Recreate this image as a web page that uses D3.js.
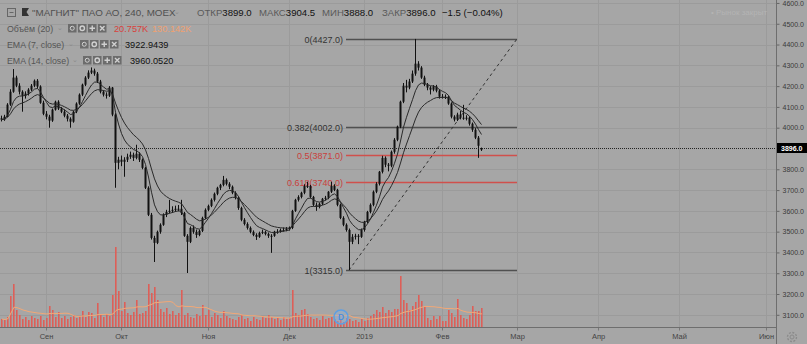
<!DOCTYPE html>
<html>
<head>
<meta charset="utf-8">
<script src="https://cdnjs.cloudflare.com/ajax/libs/d3/7.8.5/d3.min.js"></script>
<style>
body { margin: 0; background: #a6a6a6; overflow: hidden; }
svg text { font-family: "Liberation Sans", Arial, sans-serif; }
</style>
</head>
<body>
<div class="viz"></div>
<script>
// 4h bars, MAGNIT: [open, high, low, close]
var ohlc = [
[4045,4058,4030,4039],[4039,4062,4033,4053],[4053,4118,4050,4111],[4111,4185,4105,4173],[4173,4282,4168,4241],
[4241,4250,4195,4202],[4202,4214,4160,4173],[4173,4180,4077,4154],[4154,4175,4140,4164],[4164,4190,4155,4183],
[4183,4210,4176,4202],[4202,4232,4195,4226],[4226,4234,4188,4198],[4198,4204,4115,4120],[4120,4130,4060,4067],
[4067,4080,4040,4053],[4053,4062,4000,4034],[4034,4092,4028,4087],[4087,4130,4082,4125],[4125,4132,4085,4092],
[4092,4100,4070,4077],[4077,4088,4050,4058],[4058,4066,4030,4043],[4043,4050,4000,4029],[4029,4082,4024,4077],
[4077,4122,4070,4116],[4116,4165,4110,4159],[4159,4212,4152,4207],[4207,4248,4200,4241],[4241,4276,4234,4265],
[4265,4290,4258,4275],[4275,4284,4250,4260],[4260,4268,4215,4222],[4222,4230,4165,4173],[4173,4180,4150,4159],
[4159,4170,4140,4154],[4154,4200,4148,4193],[4193,4196,4055,4063],[4063,4070,3711,3831],[3831,3860,3800,3846],
[3846,3866,3815,3836],[3836,3858,3764,3846],[3846,3875,3835,3860],[3860,3885,3850,3870],[3870,3880,3840,3855],
[3855,3918,3848,3875],[3875,3882,3835,3846],[3846,3852,3800,3807],[3807,3812,3705,3711],[3711,3718,3575,3581],
[3581,3590,3462,3470],[3470,3480,3354,3446],[3446,3505,3440,3499],[3499,3540,3490,3533],[3533,3588,3528,3581],
[3581,3605,3570,3595],[3595,3653,3588,3600],[3600,3622,3590,3605],[3605,3625,3595,3610],[3610,3628,3598,3610],
[3610,3653,3580,3590],[3590,3595,3475,3480],[3480,3488,3301,3451],[3451,3525,3445,3518],[3518,3530,3490,3499],
[3499,3510,3470,3484],[3484,3510,3478,3504],[3504,3572,3498,3566],[3566,3612,3560,3605],[3605,3630,3598,3624],
[3624,3660,3618,3653],[3653,3688,3645,3682],[3682,3716,3675,3711],[3711,3730,3700,3725],[3725,3768,3718,3749],
[3749,3756,3722,3730],[3730,3738,3705,3716],[3716,3722,3680,3687],[3687,3694,3655,3663],[3663,3670,3605,3614],
[3614,3620,3550,3557],[3557,3565,3530,3537],[3537,3545,3510,3518],[3518,3525,3492,3499],[3499,3506,3478,3484],
[3484,3492,3460,3475],[3475,3500,3470,3494],[3494,3510,3488,3499],[3499,3505,3482,3489],[3489,3496,3470,3480],
[3480,3488,3398,3480],[3480,3504,3475,3499],[3499,3512,3490,3499],[3499,3515,3495,3508],[3508,3520,3500,3508],
[3508,3522,3502,3513],[3513,3525,3505,3518],[3518,3605,3512,3600],[3600,3658,3595,3653],[3653,3675,3645,3667],
[3667,3692,3660,3687],[3687,3728,3680,3720],[3720,3740,3710,3720],[3720,3725,3660,3667],[3667,3672,3622,3629],
[3629,3640,3600,3619],[3619,3640,3612,3634],[3634,3662,3628,3658],[3658,3672,3650,3663],[3663,3695,3656,3692],
[3692,3740,3686,3720],[3720,3728,3695,3701],[3701,3706,3622,3629],[3629,3635,3560,3566],[3566,3574,3526,3533],
[3533,3540,3500,3508],[3508,3515,3315,3451],[3451,3488,3440,3475],[3475,3490,3462,3480],[3480,3488,3440,3475],
[3475,3515,3470,3508],[3508,3552,3500,3547],[3547,3600,3540,3595],[3595,3636,3588,3629],[3629,3698,3622,3692],
[3692,3738,3685,3730],[3730,3792,3722,3788],[3788,3865,3780,3855],[3855,3862,3810,3822],[3822,3830,3790,3817],
[3817,3890,3810,3884],[3884,3950,3875,3942],[3942,4010,3935,4005],[4005,4130,3998,4125],[4125,4215,4118,4202],
[4202,4230,4170,4193],[4193,4235,4185,4222],[4222,4275,4215,4260],[4260,4427,4250,4308],[4308,4320,4275,4289],
[4289,4296,4235,4241],[4241,4250,4200,4207],[4207,4215,4180,4193],[4193,4200,4160,4183],[4183,4205,4175,4198],
[4198,4206,4170,4178],[4178,4185,4140,4149],[4149,4162,4140,4149],[4149,4160,4138,4149],[4149,4155,4110,4116],
[4116,4122,4045,4053],[4053,4060,4030,4039],[4039,4072,4032,4063],[4063,4080,4040,4048],[4048,4110,4038,4043],
[4043,4060,4035,4048],[4048,4055,4010,4019],[4019,4025,3980,3990],[3990,3998,3945,3952],[3952,3960,3855,3913],
[3899,3904.5,3888,3896]
];

// volume per bar, thousands
var volumes = [
88,77,110,341,473,187,132,88,110,77,
121,99,88,121,77,99,231,187,110,165,
99,121,88,110,132,99,121,176,110,165,
154,99,264,132,110,143,121,352,880,396,
176,275,154,132,165,297,143,154,176,473,
374,440,297,198,165,209,143,176,132,154,
407,132,154,110,99,143,121,242,132,187,
110,154,132,99,176,121,99,88,77,110,
132,88,99,66,110,88,77,121,99,132,
110,88,99,77,110,88,99,407,154,132,
187,198,143,110,88,99,77,121,88,99,
110,88,66,77,55,99,88,66,77,55,
88,66,99,121,143,187,165,220,154,187,
165,198,198,561,297,264,187,231,275,352,
286,231,99,77,121,88,121,66,66,187,
154,110,308,132,99,88,132,231,176,176,
209
];

var monthLabels = ["Сен", "Окт", "Ноя", "Дек", "2019", "Фев", "Мар", "Апр", "Май", "Июн"];
var monthIdx = [15, 40, 69, 96, 121, 147, 172, 199, 226, 255];
var priceTicks = [4600, 4500, 4400, 4300, 4200, 4100, 4000, 3800, 3700, 3600, 3500, 3400, 3300, 3200, 3100];
var gridTicks = [4600, 4500, 4400, 4300, 4200, 4100, 4000, 3800, 3700, 3600, 3500, 3400, 3300, 3200, 3100];
var lastPrice = 3896.0;

// fibonacci retracement: anchors (bar index, price)
var fibLow = [116, 3315.0];
var fibHigh = [172, 4427.0];
var fibRatios = [0, 0.382, 0.5, 0.618, 1];

var w = 807, h = 344;
var plotRight = 776, plotBottom = 327;

var svg = d3.select(".viz").append("svg")
    .attr("width", w)
    .attr("height", h);

svg.append("rect").attr("width", w).attr("height", h).attr("fill", "#a6a6a6");

var xScale = d3.scaleLinear().domain([0, ohlc.length - 1]).range([1, 481]);
var yScale = d3.scaleLinear().domain([3100, 4000]).range([314.8, 127.7]);
var vScale = d3.scaleLinear().domain([0, 880]).range([plotBottom, 247]);

// grid
svg.append("g").selectAll("line")
    .data(gridTicks)
    .enter().append("line")
    .attr("x1", 0).attr("x2", plotRight)
    .attr("y1", function(d) { return Math.round(yScale(d)) + 0.5; })
    .attr("y2", function(d) { return Math.round(yScale(d)) + 0.5; })
    .attr("stroke", "#9b9b9b");

svg.append("g").selectAll("line")
    .data(monthIdx)
    .enter().append("line")
    .attr("y1", 0).attr("y2", plotBottom)
    .attr("x1", function(d) { return Math.round(xScale(d)) + 0.5; })
    .attr("x2", function(d) { return Math.round(xScale(d)) + 0.5; })
    .attr("stroke", "#9b9b9b");

// volume
svg.append("g").selectAll("rect")
    .data(volumes)
    .enter().append("rect")
    .attr("x", function(d, i) { return xScale(i); })
    .attr("y", function(d) { return vScale(d); })
    .attr("width", 1.6)
    .attr("height", function(d) { return plotBottom - vScale(d); })
    .attr("fill", "#dd5f58");

var volMA = volumes.map(function(d, i) {
    var s = volumes.slice(Math.max(0, i - 19), i + 1);
    return d3.mean(s);
});
svg.append("path")
    .datum(volMA)
    .attr("fill", "none")
    .attr("stroke", "#f2a877")
    .attr("stroke-width", 1)
    .attr("d", d3.line().x(function(d, i) { return xScale(i) + 1; }).y(function(d) { return vScale(d); }));

// fib levels
var fibRange = fibHigh[1] - fibLow[1];
var fibColor = { "0": "#505050", "0.382": "#505050", "0.5": "#d0504c", "0.618": "#d0504c", "1": "#505050" };
var fibG = svg.append("g");
fibRatios.forEach(function(r) {
    var p = Math.round((fibHigh[1] - r * fibRange) * 2) / 2;
    var yy = Math.round(yScale(p)) + 0.5;
    fibG.append("line")
        .attr("x1", xScale(fibLow[0] - 1)).attr("x2", xScale(fibHigh[0]))
        .attr("y1", yy).attr("y2", yy)
        .attr("stroke", fibColor[String(r)])
        .attr("stroke-width", 1.5);
    fibG.append("text")
        .attr("x", xScale(fibLow[0] - 1) - 3)
        .attr("y", yy + 3)
        .attr("text-anchor", "end")
        .attr("font-size", "9px")
        .attr("fill", fibColor[String(r)] == "#505050" ? "#333" : "#c9403c")
        .text(r + "(" + p.toFixed(1) + ")");
});
fibG.append("line")
    .attr("x1", xScale(fibLow[0])).attr("y1", yScale(fibLow[1]))
    .attr("x2", xScale(fibHigh[0])).attr("y2", yScale(fibHigh[1]))
    .attr("stroke", "#333")
    .attr("stroke-dasharray", "3,3");

// candles
var cg = svg.append("g");
cg.selectAll("line")
    .data(ohlc)
    .enter().append("line")
    .attr("x1", function(d, i) { return xScale(i) + 0.5; })
    .attr("x2", function(d, i) { return xScale(i) + 0.5; })
    .attr("y1", function(d) { return yScale(d[1]); })
    .attr("y2", function(d) { return yScale(d[2]); })
    .attr("stroke", "#111");
cg.selectAll("rect")
    .data(ohlc)
    .enter().append("rect")
    .attr("x", function(d, i) { return xScale(i) - 0.5; })
    .attr("y", function(d) { return yScale(Math.max(d[0], d[3])); })
    .attr("width", 2)
    .attr("height", function(d) { return Math.max(1, Math.abs(yScale(d[0]) - yScale(d[3]))); })
    .attr("fill", "#111");

// EMAs
function ema(n) {
    var k = 2 / (n + 1), out = [], prev;
    ohlc.forEach(function(d, i) {
        prev = i == 0 ? d[3] : d[3] * k + prev * (1 - k);
        out.push(prev);
    });
    return out;
}
[7, 14].forEach(function(n) {
    svg.append("path")
        .datum(ema(n))
        .attr("fill", "none")
        .attr("stroke", "#2a2a2a")
        .attr("stroke-width", 1)
        .attr("d", d3.line().x(function(d, i) { return xScale(i) + 0.5; }).y(function(d) { return yScale(d); }));
});

// last price dotted line
svg.append("line")
    .attr("x1", 0).attr("x2", plotRight)
    .attr("y1", Math.round(yScale(lastPrice)) - 0.5).attr("y2", Math.round(yScale(lastPrice)) - 0.5)
    .attr("stroke", "#222")
    .attr("stroke-dasharray", "1,1");

// price axis
var yaxis = d3.axisRight(yScale)
    .tickValues(priceTicks)
    .tickSize(3)
    .tickPadding(3)
    .tickFormat(d3.format(".1f"));
var ya = svg.append("g")
    .attr("class", "y axis")
    .attr("transform", "translate(" + (plotRight + 0.5) + ",0)")
    .call(yaxis);
ya.select(".domain").remove();
ya.selectAll("line").attr("stroke", "#666");
ya.selectAll("text").attr("fill", "#3a3a3a").attr("font-size", "7px").attr("font-family", "Liberation Sans, Arial, sans-serif");
svg.append("line").attr("x1", plotRight + 0.5).attr("x2", plotRight + 0.5).attr("y1", 0).attr("y2", h).attr("stroke", "#6e6e6e");

var ly = Math.round(yScale(lastPrice)) - 1;
svg.append("rect").attr("x", plotRight + 1).attr("y", ly - 5).attr("width", w - plotRight).attr("height", 10).attr("fill", "#000");
svg.append("text").attr("x", plotRight + 5).attr("y", ly + 2.5)
    .attr("font-size", "7px").attr("font-weight", "bold").attr("fill", "#fff")
    .text(lastPrice.toFixed(1));

// time axis
var xaxis = d3.axisBottom(xScale)
    .tickValues(monthIdx)
    .tickSize(3)
    .tickPadding(3)
    .tickFormat(function(d, i) { return monthLabels[i]; });
var xa = svg.append("g")
    .attr("class", "x axis")
    .attr("transform", "translate(0," + (plotBottom + 0.5) + ")")
    .call(xaxis);
xa.select(".domain").remove();
xa.selectAll("line").attr("stroke", "#777");
xa.selectAll("text").attr("fill", "#444").attr("font-size", "7.5px").attr("font-family", "Liberation Sans, Arial, sans-serif");
svg.append("line").attr("x1", 0).attr("x2", plotRight).attr("y1", plotBottom + 0.5).attr("y2", plotBottom + 0.5).attr("stroke", "#6e6e6e");

// gear
var gear = svg.append("g").attr("transform", "translate(792,337)");
gear.append("circle").attr("r", 4.5).attr("fill", "none").attr("stroke", "#8a8a8a").attr("stroke-width", 1.3).attr("stroke-dasharray", "2,1.5");
gear.append("circle").attr("r", 2).attr("fill", "none").attr("stroke", "#8a8a8a");

// D badge
svg.append("circle").attr("cx", 341).attr("cy", 317).attr("r", 7)
    .attr("fill", "rgba(140,180,230,0.35)").attr("stroke", "#5d9fe3").attr("stroke-width", 1.5);
svg.append("text").attr("x", 341).attr("y", 320).attr("text-anchor", "middle")
    .attr("font-size", "8.5px").attr("font-weight", "bold").attr("fill", "#4d8fdc").text("D");

// legend header
svg.append("rect").attr("x", 7.5).attr("y", 8.5).attr("width", 8).attr("height", 8).attr("fill", "none").attr("stroke", "#666");
svg.append("line").attr("x1", 9.5).attr("x2", 13.5).attr("y1", 12.5).attr("y2", 12.5).attr("stroke", "#666");
svg.append("path").attr("d", "M22,8 L29,8 L26.5,12 L29,16 L22,16 Z").attr("fill", "#333");

svg.append("text").attr("x", 32).attr("y", 16).attr("font-size", "9.8px").attr("fill", "#505050")
    .text("\"МАГНИТ\" ПАО АО, 240, MOEX");
svg.append("text").attr("x", 174).attr("y", 14).attr("fill", "#8a8a8a").attr("font-size", "7px").text("⌄");
var hdr = [["ОТКР", "3899.0", 197], ["МАКС", "3904.5", 259], ["МИН", "3888.0", 322], ["ЗАКР", "3896.0", 382]];
hdr.forEach(function(f) {
    var t = svg.append("text").attr("x", f[2]).attr("y", 16).attr("font-size", "9.6px");
    t.append("tspan").attr("fill", "#5a5a5a").text(f[0]);
    t.append("tspan").attr("fill", "#111").text(f[1]);
});
svg.append("text").attr("x", 442).attr("y", 16).attr("font-size", "9.6px").attr("fill", "#111").text("−1.5 (−0.04%)");
svg.append("text").attr("x", 711).attr("y", 14.5).attr("font-size", "8px").attr("fill", "#b4b4b4").text("• Рынок закрыт");

function icons(x0, yc) {
    var g = svg.append("g").attr("transform", "translate(" + x0 + "," + (yc - 4) + ")");
    for (var k = 0; k < 4; k++) {
        g.append("rect").attr("x", k * 10).attr("y", 0).attr("width", 8.5).attr("height", 8.5).attr("fill", "#6c6c6c");
    }
    g.append("circle").attr("cx", 4.25).attr("cy", 4.25).attr("r", 2).attr("fill", "none").attr("stroke", "#d0d0d0");
    g.append("circle").attr("cx", 14.25).attr("cy", 4.25).attr("r", 2.2).attr("fill", "none").attr("stroke", "#d0d0d0").attr("stroke-width", 1.4);
    g.append("path").attr("d", "M24.25,1.5 V7 M21.5,4.25 H27").attr("stroke", "#d0d0d0").attr("stroke-width", 1.4);
    g.append("path").attr("d", "M32,2 L36.5,6.5 M36.5,2 L32,6.5").attr("stroke", "#d0d0d0").attr("stroke-width", 1.4);
}

var rows = [
    { label: "Объём (20)", chev: 57, ix: 68, y: 31.5, vals: [["20.757K", "#d9413b", 114], ["130.142K", "#f0a070", 152]] },
    { label: "EMA (7, close)", chev: 68, ix: 80, y: 47.5, vals: [["3922.9439", "#111", 125]] },
    { label: "EMA (14, close)", chev: 72, ix: 83, y: 63.5, vals: [["3960.0520", "#111", 130]] }
];
rows.forEach(function(r) {
    svg.append("text").attr("x", 7).attr("y", r.y).attr("font-size", "8.8px").attr("fill", "#555").text(r.label);
    svg.append("text").attr("x", r.chev).attr("y", r.y - 2).attr("font-size", "7px").attr("fill", "#8a8a8a").text("⌄");
    icons(r.ix, r.y - 3.5);
    r.vals.forEach(function(v) {
        svg.append("text").attr("x", v[2]).attr("y", r.y).attr("font-size", "9.2px").attr("fill", v[1]).text(v[0]);
    });
});
</script>
</body>
</html>
